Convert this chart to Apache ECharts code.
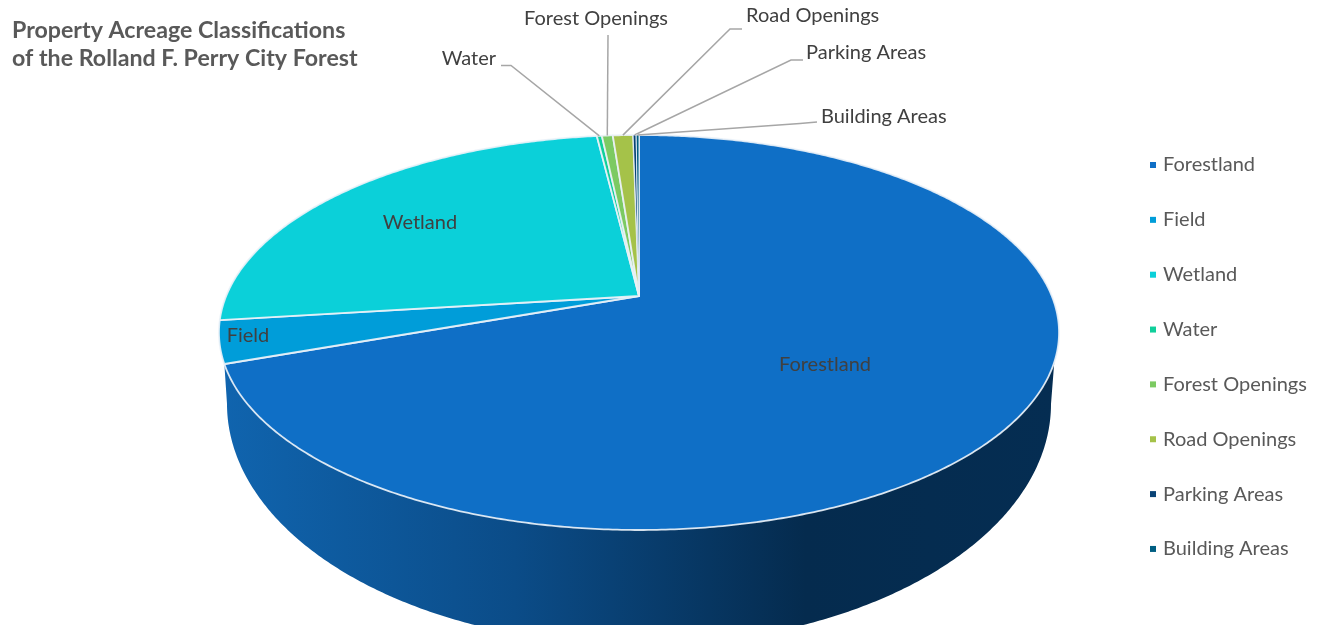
<!DOCTYPE html>
<html>
<head>
<meta charset="utf-8">
<style>html,body{margin:0;padding:0;background:#fff}#chart{width:1321px;height:625px}</style>
<script src="https://cdn.jsdelivr.net/npm/echarts@6/dist/echarts.min.js"></script>
</head>
<body>
<div id="chart"></div>
<script>
// Share of the property per classification, percent of total acreage
const categories = ['Forestland', 'Field', 'Wetland', 'Water', 'Forest Openings', 'Road Openings', 'Parking Areas', 'Building Areas'];
const acreageShare = [69.6, 3.46, 25.05, 0.23, 0.5, 0.93, 0.14, 0.13];
const sliceColors = ['#0F6FC6', '#009DD9', '#0BD0D9', '#10CF9B', '#7CCA62', '#A5C249', '#094376', '#005E82'];

// Label anchors: [x, y, align]; leader = elbow points running from the label towards the rim
const labelAnchors = [
  [825, 365, 'center'], [248, 336, 'center'], [420, 223, 'center'], [496, 59, 'right'],
  [596, 19, 'center'], [746, 16, 'left'], [806, 53, 'left'], [821, 117, 'left']
];
const leaders = [
  null, null, null,
  [[501, 65.5], [511, 65.5]],
  [[608, 35]],
  [[742, 29], [730, 29]],
  [[803, 60], [791, 60]],
  [[817, 122], [800, 123.5]]
];

const FONT = 'Lato, "Open Sans", sans-serif';
const TOTAL = acreageShare.reduce((a, b) => a + b, 0);

// Tilted disc with perspective: the centre of the circle is not the centre of the ellipse
const disc = { cx: 639, cy: 296, a: 190.75, b: 412.8, k: 0.1848 };
// Lower rim of the cylinder wall
const base = { cx: 639, cy: 404, rx: 412, ry: 241 };
const RIM_SILHOUETTE_DEG = 109;

function rad(d) { return d * Math.PI / 180; }
function rim(deg) {
  const u = Math.sin(rad(deg)), v = Math.cos(rad(deg));
  const w = 1 + disc.k * v;
  return [disc.cx + disc.b * u / w, disc.cy - disc.a * v / w];
}
function baseRim(deg) {
  return [base.cx + base.rx * Math.sin(rad(deg)), base.cy - base.ry * Math.cos(rad(deg))];
}
function sweep(from, to, fn) {
  const pts = [];
  const n = Math.max(2, Math.ceil(Math.abs(to - from) * 2));
  for (let i = 0; i <= n; i++) pts.push(fn(from + (to - from) * i / n));
  return pts;
}
function startAngle(index) {
  let sum = 0;
  for (let i = 0; i < index; i++) sum += acreageShare[i];
  return sum / TOTAL * 360;
}

function renderSlice(index, params, api) {
  const from = startAngle(index);
  const to = from + api.value(0) / TOTAL * 360;
  const mid = (from + to) / 2;
  const children = [];

  // Only the large front slice shows a wall
  if (from < 180 && to > 180) {
    const pts = sweep(RIM_SILHOUETTE_DEG, to, rim).concat(sweep(270, 90, baseRim));
    children.push({
      type: 'polygon',
      shape: { points: pts },
      style: {
        fill: new echarts.graphic.LinearGradient(0, 0, 1, 0, [
          { offset: 0, color: '#1064AE' },
          { offset: 0.35, color: '#0B4C88' },
          { offset: 0.7, color: '#052B4E' },
          { offset: 1, color: '#052D52' }
        ])
      }
    });
  }

  children.push({
    type: 'polygon',
    shape: { points: [[disc.cx, disc.cy]].concat(sweep(from, to, rim)) },
    style: {
      fill: sliceColors[index],
      stroke: 'rgba(235,242,248,0.9)',
      lineWidth: api.value(0) < 0.2 ? 1 : 1.8,
      lineJoin: 'round'
    }
  });

  const leader = leaders[index];
  if (leader) {
    children.push({
      type: 'polyline',
      shape: { points: leader.concat([rim(mid)]) },
      style: { fill: null, stroke: '#A6A6A6', lineWidth: 1.5 }
    });
  }

  const anchor = labelAnchors[index];
  children.push({
    type: 'text',
    x: anchor[0], y: anchor[1],
    style: {
      text: categories[index], fontFamily: FONT, fontSize: 20, fill: '#404040',
      align: anchor[2], verticalAlign: 'middle'
    }
  });
  return { type: 'group', children: children };
}

const chart = echarts.init(document.getElementById('chart'), null, { renderer: 'canvas' });
chart.setOption({
  animation: false,
  backgroundColor: '#fff',
  title: {
    text: 'Property Acreage Classifications\nof the Rolland F. Perry City Forest',
    left: 12, top: 17, padding: 0,
    textStyle: { fontFamily: FONT, fontSize: 23.2, fontWeight: 'bold', color: '#595959', lineHeight: 28 }
  },
  legend: {
    orient: 'vertical', left: 1150, top: 155, padding: 0,
    icon: 'rect', itemWidth: 6, itemHeight: 6, itemGap: 34.85,
    data: categories,
    selectedMode: false,
    textStyle: { fontFamily: FONT, fontSize: 20, color: '#595959', padding: [0, 0, 0, 2], lineHeight: 20 }
  },
  series: categories.map((name, i) => ({
    type: 'custom',
    name: name,
    coordinateSystem: 'none',
    silent: true,
    itemStyle: { color: sliceColors[i] },
    data: [acreageShare[i]],
    renderItem: (params, api) => renderSlice(i, params, api)
  }))
});
</script>
</body>
</html>
